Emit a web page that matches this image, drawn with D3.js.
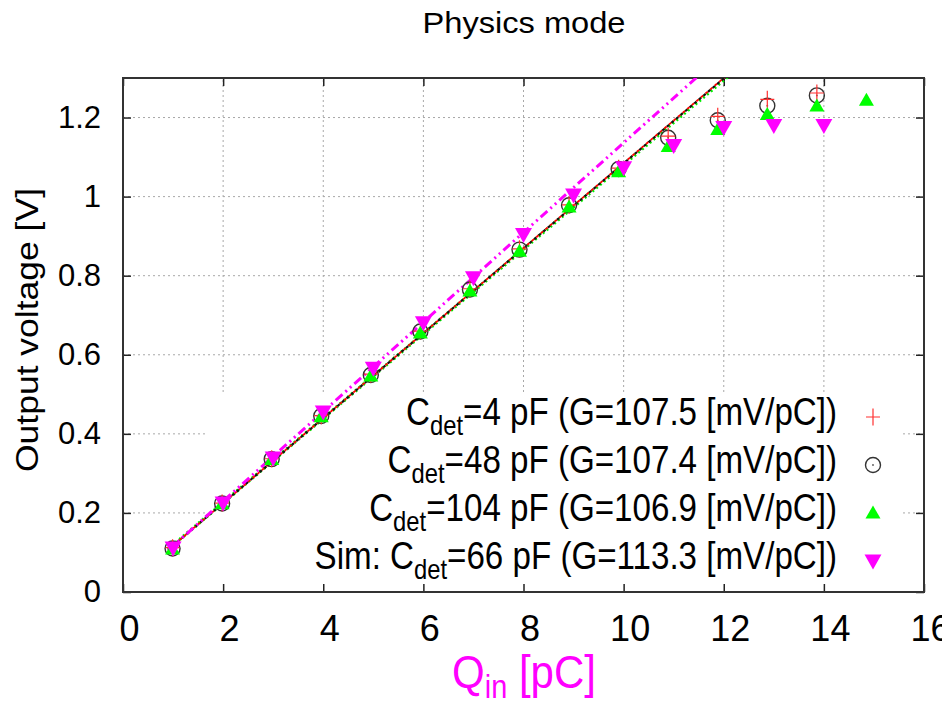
<!DOCTYPE html>
<html lang="en">
    <head>
        <meta charset="utf-8">
        <title>Physics mode</title>
        <script type="text/javascript" src="https://d3js.org/d3.v7.min.js"></script>
        <style type="text/css">
            body {
                margin: 0;
                background-color: white;
            }
            svg {
                display: block;
                font-family: "Liberation Sans", Arial, Helvetica, sans-serif;
            }
            .grid line {
                stroke: #a8a8a8;
                stroke-width: 1;
                stroke-dasharray: 2,3;
            }
        </style>
    </head>
    <body>
        <svg width="942" height="711"></svg>
        <script type="text/javascript">

            // ---- data ----
            // charge injected [pC] for measured points and simulation points
            const qMeas = [0.99, 1.98, 2.97, 3.96, 4.95, 5.94, 6.93, 7.92, 8.91, 9.9, 10.89, 11.88, 12.87, 13.86, 14.85];
            const qSim = [1, 2, 3, 4, 5, 6, 7, 8, 9, 10, 11, 12, 13, 14];

            // output voltage [V]
            const vCdet4 = [0.112, 0.225, 0.337, 0.446, 0.551, 0.660, 0.767, 0.868, 0.979, 1.072, 1.153, 1.203, 1.246, 1.262];
            const vCdet48 = [0.110, 0.224, 0.336, 0.445, 0.549, 0.659, 0.765, 0.866, 0.978, 1.070, 1.149, 1.193, 1.230, 1.256];
            const vCdet104 = [0.109, 0.223, 0.335, 0.443, 0.546, 0.655, 0.761, 0.862, 0.974, 1.063, 1.127, 1.170, 1.208, 1.229, 1.244];
            const vSim66 = [0.111, 0.225, 0.339, 0.455, 0.566, 0.681, 0.795, 0.904, 1.004, 1.073, 1.129, 1.175, 1.180, 1.180];

            // legend entries + linear fits (gain in mV/pC, offset in V)
            const cdet = [4, 48, 104, 66];
            const gains = [107.5, 107.4, 106.9, 113.3];
            const fitOffsets = [0.010, 0.010, 0.012, 0.003];
            const fitRange = [0.9, 13];

            // axis ticks
            const xTicks = [0, 2, 4, 6, 8, 10, 12, 14, 16];
            const yTicks = [0, 0.2, 0.4, 0.6, 0.8, 1, 1.2];

            const svg = d3.select("svg");

            // plot area
            const pLeft = 123, pRight = 924, pTop = 78, pBottom = 592;

            const x = d3.scaleLinear().domain([0, 16]).range([pLeft, pRight]);
            const y = d3.scaleLinear().domain([0, 1.3]).range([pBottom, pTop]);

            // title
            svg.append("text")
                .attr("x", 524)
                .attr("y", 33)
                .attr("text-anchor", "middle")
                .attr("font-size", 29)
                .attr("textLength", 203)
                .attr("lengthAdjust", "spacingAndGlyphs")
                .text("Physics mode");

            // grid (dotted)
            const grid = svg.append("g").attr("class", "grid");
            grid.selectAll("line.gx")
                .data(xTicks.filter(d => d > 0 && d < 16))
                .enter()
                .append("line")
                .attr("x1", d => x(d)).attr("x2", d => x(d))
                .attr("y1", pBottom).attr("y2", pTop);
            grid.selectAll("line.gy")
                .data(yTicks.filter(d => d > 0))
                .enter()
                .append("line")
                .attr("x1", pLeft).attr("x2", pRight)
                .attr("y1", d => y(d)).attr("y2", d => y(d));

            // key background hides the grid behind it
            svg.append("rect")
                .attr("x", 205)
                .attr("y", 392)
                .attr("width", 695)
                .attr("height", pBottom - 392)
                .attr("fill", "white");

            // axes with ticks pointing inwards
            const xAxis = svg.append("g")
                .attr("transform", "translate(0," + pBottom + ")")
                .call(d3.axisBottom(x).tickValues(xTicks).tickSizeInner(-8).tickSizeOuter(0).tickPadding(23));
            xAxis.selectAll("text")
                .attr("font-size", 36)
                .attr("dx", 6)
                .attr("fill", "black");

            const yAxis = svg.append("g")
                .attr("transform", "translate(" + pLeft + ",0)")
                .call(d3.axisLeft(y).tickValues(yTicks).tickFormat(d3.format("~g")).tickSizeInner(-8).tickSizeOuter(0).tickPadding(22));
            yAxis.selectAll("text")
                .attr("font-size", 31)
                .attr("fill", "black");

            // mirrored ticks on top and right
            svg.append("g")
                .attr("transform", "translate(0," + pTop + ")")
                .call(d3.axisTop(x).tickValues(xTicks).tickFormat("").tickSizeInner(-8).tickSizeOuter(0));
            svg.append("g")
                .attr("transform", "translate(" + pRight + ",0)")
                .call(d3.axisRight(y).tickValues(yTicks).tickFormat("").tickSizeInner(-8).tickSizeOuter(0));

            svg.selectAll(".domain").remove();
            svg.selectAll(".tick line").attr("stroke", "#222").attr("stroke-width", 1.5);

            // frame
            svg.append("rect")
                .attr("x", pLeft).attr("y", pTop)
                .attr("width", pRight - pLeft).attr("height", pBottom - pTop)
                .attr("fill", "none")
                .attr("stroke", "#333")
                .attr("stroke-width", 2);

            // axis labels
            svg.append("text")
                .attr("transform", "translate(38,330) rotate(-90)")
                .attr("text-anchor", "middle")
                .attr("font-size", 32)
                .attr("textLength", 284)
                .attr("lengthAdjust", "spacingAndGlyphs")
                .text("Output voltage [V]");

            // Q_in label, a little taller than wide like the original
            const xLabel = svg.append("g")
                .attr("transform", "translate(524,688) scale(1,1.12)")
                .append("text")
                .attr("text-anchor", "middle")
                .attr("font-size", 42)
                .attr("fill", "#ff00ff");
            xLabel.append("tspan").text("Q");
            xLabel.append("tspan").attr("font-size", 29).attr("dy", 9).text("in");
            xLabel.append("tspan").attr("dy", -9).text(" [pC]");

            // fit lines, clipped to the plot area
            svg.append("clipPath").attr("id", "clip")
                .append("rect")
                .attr("x", pLeft).attr("y", pTop)
                .attr("width", pRight - pLeft).attr("height", pBottom - pTop);

            // styles in draw order: green fit, black fit, red fit, sim fit
            const fitOrder = [2, 1, 0, 3];
            const lineStyles = [
                {color: "#00ee00", width: 3.4, dash: "2,3", offset: 0},
                {color: "#111111", width: 2.2, dash: "3,3", offset: 0},
                {color: "#ff0000", width: 1.8, dash: "3,3", offset: 3},
                {color: "#ff00ff", width: 3, dash: "9,4,2,4,2,4", offset: 0}
            ];
            const line = d3.line().x(d => x(d[0])).y(d => y(d[1]));
            const fits = svg.append("g").attr("clip-path", "url(#clip)");
            fitOrder.forEach(function (i, k) {
                const st = lineStyles[k];
                const pts = fitRange.map(q => [q, gains[i] / 1000 * q + fitOffsets[i]]);
                fits.append("path")
                    .attr("d", line(pts))
                    .attr("fill", "none")
                    .attr("stroke", st.color)
                    .attr("stroke-width", st.width)
                    .attr("stroke-dasharray", st.dash)
                    .attr("stroke-dashoffset", st.offset);
            });

            // point symbols
            const symbols = [
                // plus
                function (g) {
                    g.append("path").attr("d", "M-7,0H7M0,-8.5V8.5")
                        .attr("stroke", "#ff3030").attr("stroke-width", 1.2).attr("fill", "none");
                },
                // open circle
                function (g) {
                    g.append("circle").attr("r", 7.5)
                        .attr("fill", "none").attr("stroke", "#333").attr("stroke-width", 1.4);
                    g.append("circle").attr("r", 0.9).attr("fill", "#555");
                },
                // filled triangle up
                function (g) {
                    g.append("path").attr("d", "M-7.5,5.5L7.5,5.5L0,-7.5Z").attr("fill", "#00ff00");
                },
                // filled triangle down
                function (g) {
                    g.append("path").attr("d", "M-8.5,-6.5L8.5,-6.5L0,8.5Z").attr("fill", "#ff00ff");
                }
            ];

            const series = [
                {q: qMeas, v: vCdet4},
                {q: qMeas, v: vCdet48},
                {q: qMeas, v: vCdet104},
                {q: qSim, v: vSim66}
            ];

            // circles first so the other markers sit on top
            [1, 0, 2, 3].forEach(function (i) {
                const s = series[i];
                svg.append("g")
                    .selectAll("g")
                    .data(s.v.map((v, k) => [s.q[k], v]))
                    .enter()
                    .append("g")
                    .attr("transform", d => "translate(" + x(d[0]) + "," + y(d[1]) + ")")
                    .each(function () { symbols[i](d3.select(this)); });
            });

            // legend
            const keyRows = [425, 473, 521, 569];
            const keyPrefix = ["C", "C", "C", "Sim: C"];
            keyRows.forEach(function (by, i) {
                const t = svg.append("g")
                    .attr("transform", "translate(837," + by + ") scale(0.85,1)")
                    .append("text")
                    .attr("text-anchor", "end")
                    .attr("font-size", 39);
                t.append("tspan").text(keyPrefix[i]);
                t.append("tspan").attr("font-size", 28).attr("dy", 10).text("det");
                t.append("tspan").attr("dy", -10)
                    .text("=" + cdet[i] + " pF (G=" + gains[i].toFixed(1) + " [mV/pC])");

                const m = svg.append("g").attr("transform", "translate(873," + (by - 8) + ")");
                symbols[i](m);
            });

        </script>
    </body>
</html>
